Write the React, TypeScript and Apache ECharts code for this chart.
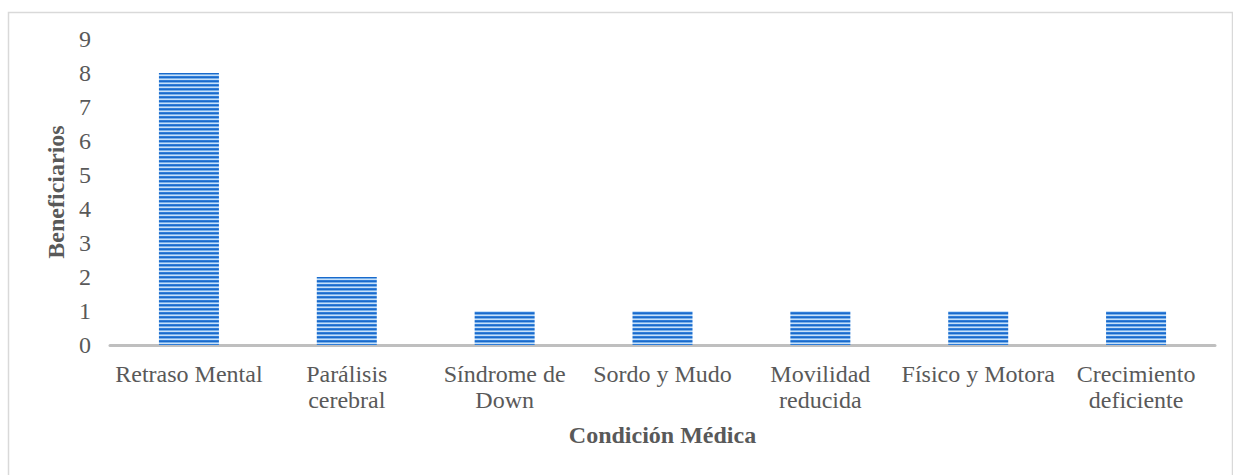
import React, { useEffect, useRef } from "react";
import * as echarts from "echarts";

const categories = [
  "Retraso Mental",
  "Parálisis\ncerebral",
  "Síndrome de\nDown",
  "Sordo y Mudo",
  "Movilidad\nreducida",
  "Físico y Motora",
  "Crecimiento\ndeficiente",
];
const beneficiarios = [8, 2, 1, 1, 1, 1, 1];
const yTicks = { min: 0, max: 9, interval: 1 };

function makePattern(): HTMLCanvasElement {
  const c = document.createElement("canvas");
  c.width = 8;
  c.height = 4;
  const ctx = c.getContext("2d")!;
  const rows = ["#2f7dd8", "#1a6acb", "#78b0ea", "#c8e0f8"];
  rows.forEach((col, i) => {
    ctx.fillStyle = col;
    ctx.fillRect(0, i, 8, 1);
  });
  return c;
}

export default function App() {
  const ref = useRef<HTMLDivElement>(null);
  useEffect(() => {
    if (!ref.current) return;
    const chart = echarts.init(ref.current, undefined, { renderer: "svg" });
    const font = "'Liberation Serif', 'Times New Roman', serif";
    chart.setOption({
      animation: false,
      backgroundColor: "#ffffff",
      textStyle: { fontFamily: font },
      graphic: [
        {
          type: "rect",
          shape: { x: 8.5, y: 12.5, width: 1224, height: 470 },
          style: { fill: "none", stroke: "#d9d9d9", lineWidth: 1.5 },
          silent: true,
        },
      ],
      grid: { left: 110, right: 18, top: 39, bottom: 130 },
      xAxis: {
        type: "category",
        data: categories,
        axisLine: { lineStyle: { color: "#bfbfbf", width: 3 } },
        axisTick: { show: false },
        axisLabel: {
          color: "#595959",
          fontSize: 24,
          fontFamily: font,
          lineHeight: 26,
          margin: 16,
          interval: 0,
        },
        name: "Condición Médica",
        nameLocation: "middle",
        nameGap: 78,
        nameTextStyle: {
          color: "#595959",
          fontSize: 24,
          fontWeight: "bold",
          fontFamily: font,
        },
      },
      yAxis: {
        type: "value",
        min: yTicks.min,
        max: yTicks.max,
        interval: yTicks.interval,
        axisLine: { show: false },
        axisTick: { show: false },
        splitLine: { show: false },
        axisLabel: {
          color: "#595959",
          fontSize: 24,
          fontFamily: font,
          margin: 19,
        },
        name: "Beneficiarios",
        nameLocation: "middle",
        nameGap: 42,
        nameTextStyle: {
          color: "#595959",
          fontSize: 24,
          fontWeight: "bold",
          fontFamily: font,
        },
      },
      series: [
        {
          type: "bar",
          data: beneficiarios,
          barWidth: 60,
          itemStyle: {
            color: { image: makePattern(), repeat: "repeat" } as any,
          },
        },
      ],
    });
    return () => chart.dispose();
  }, []);
  return (
    <div
      ref={ref}
      style={{ position: "fixed", left: 0, top: 0, width: 1233, height: 475 }}
    />
  );
}
